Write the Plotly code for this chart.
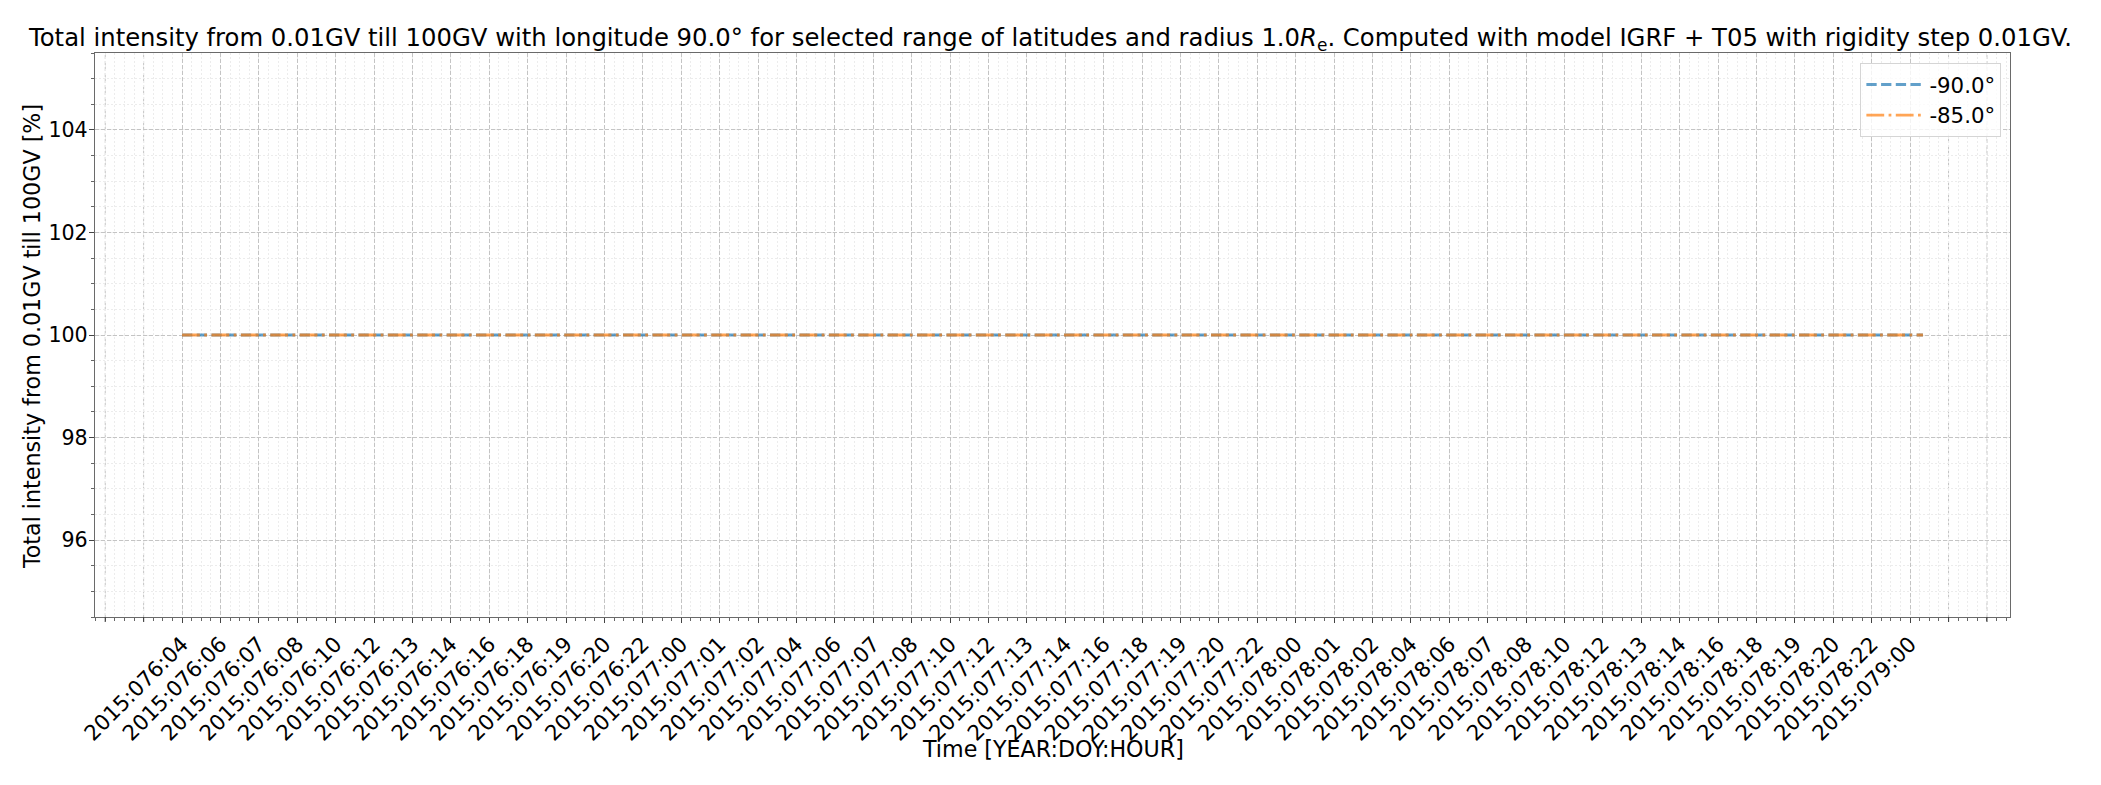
import plotly.graph_objects as go

# Hours since 2015:076:00 (hourly samples 076:04 .. 079:00)
hours = [4, 5, 6, 7, 8, 9, 10, 11, 12, 13, 14, 15, 16, 17, 18, 19, 20, 21, 22, 23,
         24, 25, 26, 27, 28, 29, 30, 31, 32, 33, 34, 35, 36, 37, 38, 39, 40, 41, 42, 43,
         44, 45, 46, 47, 48, 49, 50, 51, 52, 53, 54, 55, 56, 57, 58, 59, 60, 61, 62, 63,
         64, 65, 66, 67, 68, 69, 70, 71, 72]

lat_m90 = [100.0, 100.0, 100.0, 100.0, 100.0, 100.0, 100.0, 100.0, 100.0, 100.0,
           100.0, 100.0, 100.0, 100.0, 100.0, 100.0, 100.0, 100.0, 100.0, 100.0,
           100.0, 100.0, 100.0, 100.0, 100.0, 100.0, 100.0, 100.0, 100.0, 100.0,
           100.0, 100.0, 100.0, 100.0, 100.0, 100.0, 100.0, 100.0, 100.0, 100.0,
           100.0, 100.0, 100.0, 100.0, 100.0, 100.0, 100.0, 100.0, 100.0, 100.0,
           100.0, 100.0, 100.0, 100.0, 100.0, 100.0, 100.0, 100.0, 100.0, 100.0,
           100.0, 100.0, 100.0, 100.0, 100.0, 100.0, 100.0, 100.0, 100.0]
lat_m85 = [100.0, 100.0, 100.0, 100.0, 100.0, 100.0, 100.0, 100.0, 100.0, 100.0,
           100.0, 100.0, 100.0, 100.0, 100.0, 100.0, 100.0, 100.0, 100.0, 100.0,
           100.0, 100.0, 100.0, 100.0, 100.0, 100.0, 100.0, 100.0, 100.0, 100.0,
           100.0, 100.0, 100.0, 100.0, 100.0, 100.0, 100.0, 100.0, 100.0, 100.0,
           100.0, 100.0, 100.0, 100.0, 100.0, 100.0, 100.0, 100.0, 100.0, 100.0,
           100.0, 100.0, 100.0, 100.0, 100.0, 100.0, 100.0, 100.0, 100.0, 100.0,
           100.0, 100.0, 100.0, 100.0, 100.0, 100.0, 100.0, 100.0, 100.0]

series_names = ["-90.0°", "-85.0°"]

tick_labels = [
    "2015:076:04", "2015:076:06", "2015:076:07", "2015:076:08", "2015:076:10",
    "2015:076:12", "2015:076:13", "2015:076:14", "2015:076:16", "2015:076:18",
    "2015:076:19", "2015:076:20", "2015:076:22",
    "2015:077:00", "2015:077:01", "2015:077:02", "2015:077:04", "2015:077:06",
    "2015:077:07", "2015:077:08", "2015:077:10", "2015:077:12", "2015:077:13",
    "2015:077:14", "2015:077:16", "2015:077:18", "2015:077:19", "2015:077:20",
    "2015:077:22",
    "2015:078:00", "2015:078:01", "2015:078:02", "2015:078:04", "2015:078:06",
    "2015:078:07", "2015:078:08", "2015:078:10", "2015:078:12", "2015:078:13",
    "2015:078:14", "2015:078:16", "2015:078:18", "2015:078:19", "2015:078:20",
    "2015:078:22",
    "2015:079:00",
]
tick_step = 1.5
tick_start = hours[0]
tick_vals = [tick_start + i * tick_step for i in range(len(tick_labels))]
# unlabeled major ticks outside the labeled set (two before, two after)
extra_ticks = [tick_start - 2 * tick_step, tick_start - tick_step,
               tick_vals[-1] + tick_step, tick_vals[-1] + 2 * tick_step]

FONT = "DejaVu Sans"
FS = 21.3
FS_LABEL = 22.2
FS_TITLE = 24.3

GRID_MAJOR = "#c4c4c4"
GRID_DASH = "4px,2px"

fig = go.Figure()
fig.add_trace(go.Scatter(
    x=hours, y=lat_m90, mode="lines", name=series_names[0],
    line=dict(color="rgba(31,119,180,0.7)", width=2.8, dash="10.3px,4.4px"),
))
fig.add_trace(go.Scatter(
    x=hours, y=lat_m85, mode="lines", name=series_names[1],
    line=dict(color="rgba(255,127,14,0.7)", width=2.8, dash="17.8px,4.4px,2.8px,4.4px"),
))

span = hours[-1] - hours[0]
xr = [hours[0] - 0.05 * span, hours[-1] + 0.05 * span]

axis_common = dict(
    showline=True, linecolor="#6a6a6a", linewidth=1.3, mirror=True,
    ticks="outside", ticklen=5, tickwidth=1.1, tickcolor="#444",
    showgrid=True, gridcolor=GRID_MAJOR, gridwidth=1, griddash=GRID_DASH,
    zeroline=False,
)

fig.update_xaxes(
    range=xr, tickmode="array", tickvals=tick_vals, ticktext=tick_labels,
    tickangle=-45,
    tickfont=dict(family=FONT, size=FS, color="black"),
    minor=dict(dtick=tick_step / 4, tick0=tick_start, showgrid=True,
               gridcolor="#ececec", griddash="2px,2px", gridwidth=1,
               ticks="outside", ticklen=2.5, tickcolor="#666"),
    **axis_common,
)
fig.update_yaxes(
    range=[94.5, 105.5], tickmode="array", tickvals=[96, 98, 100, 102, 104],
    tickfont=dict(family=FONT, size=20.6, color="black"),
    ticklabelstandoff=-3,
    minor=dict(dtick=0.5, tick0=94.5, showgrid=True,
               gridcolor="#ececec", griddash="2px,2px", gridwidth=1,
               ticks="outside", ticklen=2.5, tickcolor="#666"),
    **axis_common,
)

shapes = []
for xv in extra_ticks:
    shapes.append(dict(type="line", xref="x", yref="paper", x0=xv, x1=xv, y0=0, y1=1,
                       line=dict(color=GRID_MAJOR, width=1, dash=GRID_DASH), layer="below"))
    shapes.append(dict(type="line", xref="x", yref="paper", x0=xv, x1=xv,
                       ysizemode="pixel", yanchor=0, y0=0, y1=-5,
                       line=dict(color="#444", width=1.1)))

fig.update_layout(
    width=2101, height=785,
    margin=dict(l=95, r=91, t=53, b=168, autoexpand=False),
    paper_bgcolor="white", plot_bgcolor="white",
    font=dict(family=FONT, size=FS, color="black"),
    title=dict(
        text="Total intensity from 0.01GV till 100GV with longitude 90.0° for selected range of latitudes and radius 1.0<i>R</i><sub>e</sub>. Computed with model IGRF + T05 with rigidity step 0.01GV.",
        x=0.5, xanchor="center", y=1 - 37 / 785, yanchor="middle",
        font=dict(family=FONT, size=FS_TITLE, color="black"),
    ),
    legend=dict(
        x=0.9955, xanchor="right", y=0.982, yanchor="top",
        bgcolor="rgba(255,255,255,0.8)", bordercolor="#d5d5d5", borderwidth=1,
        font=dict(family=FONT, size=FS, color="black"),
        tracegroupgap=0, itemwidth=58,
    ),
    showlegend=True,
    shapes=shapes,
    annotations=[
        dict(text="Time [YEAR:DOY:HOUR]", xref="paper", yref="paper",
             x=0.5, y=-(749 - 617) / (617 - 53), xanchor="center", yanchor="middle",
             showarrow=False, font=dict(family=FONT, size=FS_LABEL, color="black")),
        dict(text="Total intensity from 0.01GV till 100GV [%]", xref="paper", yref="paper",
             x=-(95 - 32) / (2010 - 95), y=(617 - 337) / (617 - 53),
             xanchor="center", yanchor="middle", textangle=-90,
             showarrow=False, font=dict(family=FONT, size=FS_LABEL, color="black")),
    ],
)

fig.write_html("out.html")
